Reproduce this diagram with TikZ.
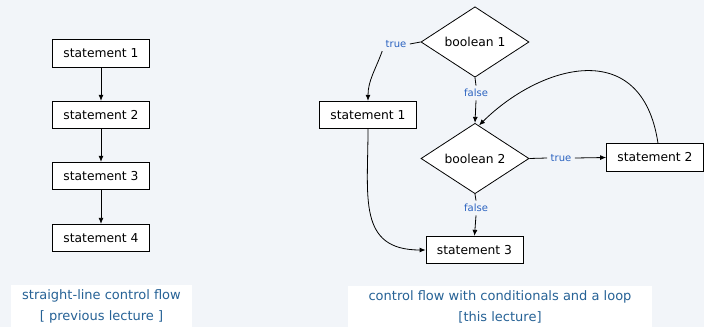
\documentclass[tikz,border=0pt]{standalone}
\usepackage{fontspec}
\setmainfont{DejaVu Sans}
\usetikzlibrary{arrows.meta,shapes.geometric}
\definecolor{bgcol}{RGB}{242,245,249}
\definecolor{lblcol}{RGB}{42,98,192}
\definecolor{capcol}{RGB}{38,98,150}
\tikzset{arrow/.style={-{Latex[length=6pt, width=5pt]}, line width=0.8pt},
  link/.style={line width=0.8pt},
  stmt/.style={draw, fill=white, line width=0.8pt, minimum width=97pt, minimum height=27.5pt, inner sep=0pt, font=\fontsize{12.3}{14}\selectfont},
  cond/.style={draw, fill=white, diamond, line width=0.8pt, minimum width=108pt, minimum height=66pt, inner sep=0pt, font=\fontsize{12.3}{14}\selectfont},
  lbl/.style={text=lblcol, font=\fontsize{10}{12}\selectfont},
  caption/.style={fill=white, text=capcol, align=center, font=\fontsize{13}{21}\selectfont}}

\begin{document}
\begin{tikzpicture}[x=1pt, y=1pt]
    \fill[bgcol] (0, 0) rectangle (704, 327);
    \useasboundingbox (0, 0) rectangle (704, 327);
    % straight-line flow
    \node[stmt] (S1) at (101, 273.5) {statement 1};
    \node[stmt] (S2) at (101, 212) {statement 2};
    \node[stmt] (S3) at (101, 151) {statement 3};
    \node[stmt] (S4) at (101, 89) {statement 4};
    \draw[arrow] (S1) to (S2);
    \draw[arrow] (S2) to (S3);
    \draw[arrow] (S3) to (S4);
    \node[caption, minimum width=181pt, minimum height=42pt] (capL) at (101.5, 21) {straight-line control flow\\{}[ previous lecture ]};
    % conditionals and loop
    \node[cond] (B1) at (475, 285) {boolean 1};
    \node[cond] (B2) at (475, 168.5) {boolean 2};
    \node[stmt] (T1) at (368, 212) {statement 1};
    \node[stmt] (T2) at (655, 169.5) {statement 2};
    \node[stmt] (T3) at (474.5, 77) {statement 3};
    \node[lbl] (tr1) at (396, 283) {true};
    \node[lbl] (fa1) at (476, 234) {false};
    \node[lbl] (tr2) at (561, 169) {true};
    \node[lbl] (fa2) at (476, 119) {false};
    \draw[link] (B1.west) to (tr1.east);
    \draw[arrow] (tr1.south west) to[out=250, in=90] (T1.north);
    \draw[link] (B1.south) to (fa1.north);
    \draw[arrow] (fa1.south) to (B2.north);
    \draw[link] (B2.east) to (tr2.west);
    \draw[arrow] (tr2.east) to (T2.west);
    \draw[link] (B2.south) to (fa2.north);
    \draw[arrow] (fa2.south) to (T3.north);
    \draw[arrow] (T1.south) to[out=-90, in=180, looseness=1.3] (T3.west);
    \draw[arrow] ([xshift=3pt]T2.north) .. controls (642, 292) and (540, 262) .. ([xshift=4pt, yshift=-2.5pt]B2.north);
    \node[caption, minimum width=304pt, minimum height=41pt] (capR) at (500, 20.5) {control flow with conditionals and a loop\\{}[this lecture]};
\end{tikzpicture}
\end{document}
